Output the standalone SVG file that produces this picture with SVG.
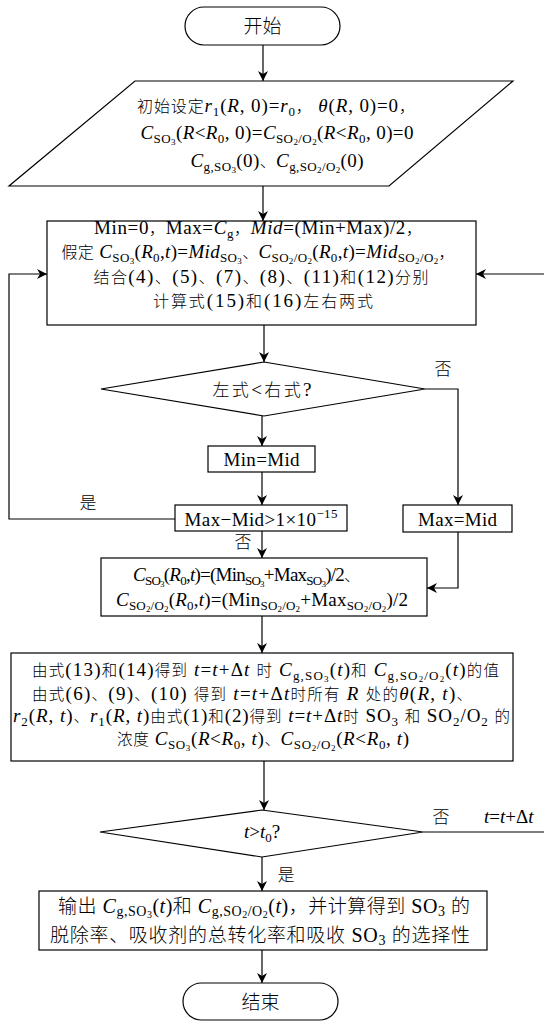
<svg xmlns="http://www.w3.org/2000/svg" width="544" height="1023" viewBox="0 0 544 1023">
<defs>
<marker id="ah" markerUnits="userSpaceOnUse" markerWidth="11" markerHeight="10" refX="10" refY="5" orient="auto">
<path d="M0,0 L10,5 L0,10 L3,5 Z" fill="#000"/>
</marker>
<style>
.n{fill:#fff;stroke:#000;stroke-width:1.2}
.c{fill:none;stroke:#000;stroke-width:1.2;marker-end:url(#ah)}
.t{font-family:"Liberation Serif","Noto Sans CJK SC",serif;font-size:19px;fill:#000;text-anchor:middle}
.zh{font-family:"Noto Sans CJK SC",sans-serif;font-size:16px;font-weight:300}
.i{font-style:italic}
.s{font-size:13px}
.ss{font-size:9px}
.b4{font-size:19px}
.b4 .zh{font-size:15.5px}
.o{font-size:20px}
.o .zh{font-size:19px}
.o .s{font-size:14px}
.o .ss{font-size:10px}
.d .zh{font-size:17px}
.lb{font-family:"Noto Sans CJK SC",sans-serif;font-size:17px;font-weight:300;fill:#000;text-anchor:middle}
.term{font-family:"Noto Sans CJK SC",sans-serif;font-size:19px;font-weight:300;fill:#000;text-anchor:middle}
</style>
</defs>

<g id="connectors">
<path class="c" d="M263,45 V81"/>
<path class="c" d="M263,186 V221"/>
<path class="c" d="M264,325 V362"/>
<path class="c" d="M262,416 V446"/>
<path class="c" d="M262,472 V505"/>
<path class="c" d="M262,531 V558"/>
<path class="c" d="M175,519 H9 V274 H47"/>
<path class="c" d="M425,389 H458 V505"/>
<path class="c" d="M458,532 V588 H427"/>
<path class="c" d="M262,616 V653"/>
<path class="c" d="M264,761 V810"/>
<path class="c" d="M423,832 H547 V274 H476"/>
<path class="c" d="M262,857 V891"/>
<path class="c" d="M262,950 V983"/>
<text class="lb" x="443" y="375">否</text>
<text class="lb" x="88" y="509">是</text>
<text class="lb" x="243" y="548">否</text>
<text class="lb" x="441" y="823">否</text>
<text class="t" x="484" y="823" style="text-anchor:start"><tspan class="i">t</tspan>=<tspan class="i">t</tspan>+Δ<tspan class="i">t</tspan></text>
<text class="lb" x="286" y="881">是</text>
</g>

<g id="start">
<rect class="n" x="185" y="7" width="155" height="38" rx="19"/>
<text class="term" x="262.5" y="33">开始</text>
</g>

<g id="init">
<polygon class="n" points="135,81 513,81 389,186 9,186"/>
<text class="t" x="276" y="112" textLength="278"><tspan class="zh">初始设定</tspan><tspan class="i">r</tspan><tspan class="s" dy="4">1</tspan><tspan dy="-4">(</tspan><tspan class="i">R</tspan>, 0)=<tspan class="i">r</tspan><tspan class="s" dy="4">0</tspan><tspan class="zh" dy="-4">，</tspan> <tspan class="i">θ</tspan>(<tspan class="i">R</tspan>, 0)=0<tspan class="zh">，</tspan></text>
<text class="t" x="277" y="139" textLength="273"><tspan class="i">C</tspan><tspan class="s" dy="4">SO</tspan><tspan class="ss" dy="2">3</tspan><tspan dy="-6">(</tspan><tspan class="i">R</tspan>&lt;<tspan class="i">R</tspan><tspan class="s" dy="4">0</tspan><tspan dy="-4">, 0)=</tspan><tspan class="i">C</tspan><tspan class="s" dy="4">SO</tspan><tspan class="ss" dy="2">2</tspan><tspan class="s" dy="-2">/O</tspan><tspan class="ss" dy="2">2</tspan><tspan dy="-6">(</tspan><tspan class="i">R</tspan>&lt;<tspan class="i">R</tspan><tspan class="s" dy="4">0</tspan><tspan dy="-4">, 0)=0</tspan></text>
<text class="t" x="277" y="167" textLength="173"><tspan class="i">C</tspan><tspan class="s" dy="4">g,SO</tspan><tspan class="ss" dy="2">3</tspan><tspan dy="-6">(0)</tspan><tspan class="zh">、</tspan><tspan class="i">C</tspan><tspan class="s" dy="4">g,SO</tspan><tspan class="ss" dy="2">2</tspan><tspan class="s" dy="-2">/O</tspan><tspan class="ss" dy="2">2</tspan><tspan dy="-6">(0)</tspan></text>
</g>

<g id="assume">
<rect class="n" x="47" y="221" width="429" height="104"/>
<text class="t" x="258" y="234" textLength="328">Min=0<tspan class="zh">，</tspan>Max=<tspan class="i">C</tspan><tspan class="s" dy="4">g</tspan><tspan class="zh" dy="-4">，</tspan><tspan class="i">Mid</tspan>=(Min+Max)/2<tspan class="zh">，</tspan></text>
<text class="t" x="258" y="258" textLength="393"><tspan class="zh">假定</tspan> <tspan class="i">C</tspan><tspan class="s" dy="4">SO</tspan><tspan class="ss" dy="2">3</tspan><tspan dy="-6">(</tspan><tspan class="i">R</tspan><tspan class="s" dy="4">0</tspan><tspan dy="-4">,</tspan><tspan class="i">t</tspan>)=<tspan class="i">Mid</tspan><tspan class="s" dy="4">SO</tspan><tspan class="ss" dy="2">3</tspan><tspan class="zh" dy="-6">、</tspan><tspan class="i">C</tspan><tspan class="s" dy="4">SO</tspan><tspan class="ss" dy="2">2</tspan><tspan class="s" dy="-2">/O</tspan><tspan class="ss" dy="2">2</tspan><tspan dy="-6">(</tspan><tspan class="i">R</tspan><tspan class="s" dy="4">0</tspan><tspan dy="-4">,</tspan><tspan class="i">t</tspan>)=<tspan class="i">Mid</tspan><tspan class="s" dy="4">SO</tspan><tspan class="ss" dy="2">2</tspan><tspan class="s" dy="-2">/O</tspan><tspan class="ss" dy="2">2</tspan><tspan class="zh" dy="-6">，</tspan></text>
<text class="t" x="261" y="283" textLength="335"><tspan class="zh">结合</tspan>(4)<tspan class="zh">、</tspan>(5)<tspan class="zh">、</tspan>(7)<tspan class="zh">、</tspan>(8)<tspan class="zh">、</tspan>(11)<tspan class="zh">和</tspan>(12)<tspan class="zh">分别</tspan></text>
<text class="t" x="263" y="307" textLength="220"><tspan class="zh">计算式</tspan>(15)<tspan class="zh">和</tspan>(16)<tspan class="zh">左右两式</tspan></text>
</g>

<g id="cmp">
<polygon class="n" points="264,362 425,389 264,416 101,389"/>
<text class="t d" x="262" y="396" textLength="99"><tspan class="zh">左式</tspan>&lt;<tspan class="zh">右式</tspan>?</text>
</g>

<g id="minmid">
<rect class="n" x="208" y="446" width="107" height="26"/>
<text class="t" x="261.5" y="466" textLength="76">Min=Mid</text>
</g>

<g id="check">
<rect class="n" x="175" y="505" width="172" height="26"/>
<text class="t" x="261" y="526" textLength="153">Max−Mid&gt;1×10<tspan class="s" dy="-8">−15</tspan></text>
</g>

<g id="maxmid">
<rect class="n" x="403" y="505" width="109" height="27"/>
<text class="t" x="457.5" y="526" textLength="79">Max=Mid</text>
</g>

<g id="setc">
<rect class="n" x="101" y="558" width="326" height="58"/>
<text class="t" x="246.5" y="581" textLength="227"><tspan class="i">C</tspan><tspan class="s" dy="4">SO</tspan><tspan class="ss" dy="2">3</tspan><tspan dy="-6">(</tspan><tspan class="i">R</tspan><tspan class="s" dy="4">0</tspan><tspan dy="-4">,</tspan><tspan class="i">t</tspan>)=(Min<tspan class="s" dy="4">SO</tspan><tspan class="ss" dy="2">3</tspan><tspan dy="-6">+Max</tspan><tspan class="s" dy="4">SO</tspan><tspan class="ss" dy="2">3</tspan><tspan dy="-6">)/2</tspan><tspan class="zh">、</tspan></text>
<text class="t" x="262" y="606" textLength="292"><tspan class="i">C</tspan><tspan class="s" dy="4">SO</tspan><tspan class="ss" dy="2">2</tspan><tspan class="s" dy="-2">/O</tspan><tspan class="ss" dy="2">2</tspan><tspan dy="-6">(</tspan><tspan class="i">R</tspan><tspan class="s" dy="4">0</tspan><tspan dy="-4">,</tspan><tspan class="i">t</tspan>)=(Min<tspan class="s" dy="4">SO</tspan><tspan class="ss" dy="2">2</tspan><tspan class="s" dy="-2">/O</tspan><tspan class="ss" dy="2">2</tspan><tspan dy="-6">+Max</tspan><tspan class="s" dy="4">SO</tspan><tspan class="ss" dy="2">2</tspan><tspan class="s" dy="-2">/O</tspan><tspan class="ss" dy="2">2</tspan><tspan dy="-6">)/2</tspan></text>
</g>

<g id="step">
<rect class="n" x="11" y="653" width="502" height="108"/>
<text class="t b4" x="265.5" y="676" textLength="467"><tspan class="zh">由式</tspan>(13)<tspan class="zh">和</tspan>(14)<tspan class="zh">得到</tspan> <tspan class="i">t</tspan>=<tspan class="i">t</tspan>+Δ<tspan class="i">t</tspan> <tspan class="zh">时</tspan> <tspan class="i">C</tspan><tspan class="s" dy="4">g,SO</tspan><tspan class="ss" dy="2">3</tspan><tspan dy="-6">(</tspan><tspan class="i">t</tspan>)<tspan class="zh">和</tspan> <tspan class="i">C</tspan><tspan class="s" dy="4">g,SO</tspan><tspan class="ss" dy="2">2</tspan><tspan class="s" dy="-2">/O</tspan><tspan class="ss" dy="2">2</tspan><tspan dy="-6">(</tspan><tspan class="i">t</tspan>)<tspan class="zh">的值</tspan></text>
<text class="t b4" x="252" y="700" textLength="440"><tspan class="zh">由式</tspan>(6)<tspan class="zh">、</tspan>(9)<tspan class="zh">、</tspan>(10) <tspan class="zh">得到</tspan> <tspan class="i">t</tspan>=<tspan class="i">t</tspan>+Δ<tspan class="i">t</tspan><tspan class="zh">时所有</tspan> <tspan class="i">R</tspan> <tspan class="zh">处的</tspan><tspan class="i">θ</tspan>(<tspan class="i">R</tspan>, <tspan class="i">t</tspan>)<tspan class="zh">、</tspan></text>
<text class="t b4" x="261.5" y="722" textLength="497"><tspan class="i">r</tspan><tspan class="s" dy="4">2</tspan><tspan dy="-4">(</tspan><tspan class="i">R</tspan>, <tspan class="i">t</tspan>)<tspan class="zh">、</tspan><tspan class="i">r</tspan><tspan class="s" dy="4">1</tspan><tspan dy="-4">(</tspan><tspan class="i">R</tspan>, <tspan class="i">t</tspan>)<tspan class="zh">由式</tspan>(1)<tspan class="zh">和</tspan>(2)<tspan class="zh">得到</tspan> <tspan class="i">t</tspan>=<tspan class="i">t</tspan>+Δ<tspan class="i">t</tspan><tspan class="zh">时</tspan> SO<tspan class="s" dy="4">3</tspan> <tspan class="zh" dy="-4">和</tspan> SO<tspan class="s" dy="4">2</tspan><tspan dy="-4">/O</tspan><tspan class="s" dy="4">2</tspan> <tspan class="zh" dy="-4">的</tspan></text>
<text class="t b4" x="263" y="745" textLength="292"><tspan class="zh">浓度</tspan> <tspan class="i">C</tspan><tspan class="s" dy="4">SO</tspan><tspan class="ss" dy="2">3</tspan><tspan dy="-6">(</tspan><tspan class="i">R</tspan>&lt;<tspan class="i">R</tspan><tspan class="s" dy="4">0</tspan><tspan dy="-4">, </tspan><tspan class="i">t</tspan>)<tspan class="zh">、</tspan><tspan class="i">C</tspan><tspan class="s" dy="4">SO</tspan><tspan class="ss" dy="2">2</tspan><tspan class="s" dy="-2">/O</tspan><tspan class="ss" dy="2">2</tspan><tspan dy="-6">(</tspan><tspan class="i">R</tspan>&lt;<tspan class="i">R</tspan><tspan class="s" dy="4">0</tspan><tspan dy="-4">, </tspan><tspan class="i">t</tspan>)</text>
</g>

<g id="timecheck">
<polygon class="n" points="262,810 423,832 262,857 100,832"/>
<text class="t" x="262" y="838"><tspan class="i">t</tspan>&gt;<tspan class="i">t</tspan><tspan class="s" dy="4">0</tspan><tspan dy="-4">?</tspan></text>
</g>

<g id="output">
<rect class="n" x="39" y="891" width="448" height="59"/>
<text class="t o" x="264" y="913" textLength="412"><tspan class="zh">输出</tspan> <tspan class="i">C</tspan><tspan class="s" dy="3">g,SO</tspan><tspan class="ss" dy="2">3</tspan><tspan dy="-5">(</tspan><tspan class="i">t</tspan>)<tspan class="zh">和</tspan> <tspan class="i">C</tspan><tspan class="s" dy="3">g,SO</tspan><tspan class="ss" dy="2">2</tspan><tspan class="s" dy="-2">/O</tspan><tspan class="ss" dy="2">2</tspan><tspan dy="-5">(</tspan><tspan class="i">t</tspan>)<tspan class="zh">，并计算得到</tspan> SO<tspan class="s" dy="3">3</tspan> <tspan class="zh" dy="-3">的</tspan></text>
<text class="t o" x="260" y="942" textLength="420"><tspan class="zh">脱除率、吸收剂的总转化率和吸收</tspan> SO<tspan class="s" dy="3">3</tspan> <tspan class="zh" dy="-3">的选择性</tspan></text>
</g>

<g id="end">
<rect class="n" x="183" y="983" width="155" height="37" rx="18.5"/>
<text class="term" x="260.5" y="1009">结束</text>
</g>
</svg>
